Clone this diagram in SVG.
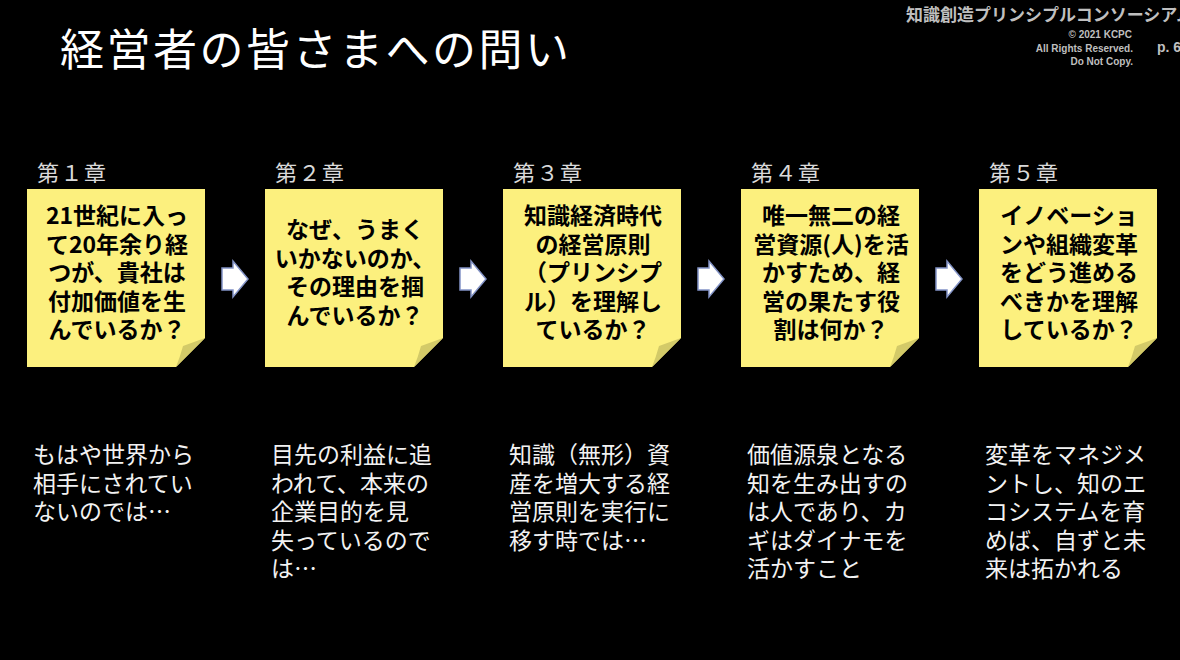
<svg xmlns="http://www.w3.org/2000/svg" width="1180" height="660" viewBox="0 0 1180 660">
<defs>
<style>
.jp{font-family:"Noto Sans CJK JP","Noto Sans",sans-serif}
.title{font-size:44px;fill:#ffffff;letter-spacing:2.5px}
.org{font-size:17px;font-weight:700;fill:#bfbfbf}
.copy{font-family:"Liberation Sans","DejaVu Sans",sans-serif;font-size:10px;font-weight:700;fill:#bfbfbf}
.chap{font-size:22px;fill:#d9d9d9;letter-spacing:1.5px}
.q{font-size:23px;font-weight:700;fill:#000000;text-anchor:middle}
.d{font-size:23px;fill:#f2f2f2}
.note{fill:#fcf07e}
.flap{fill:#d3ca68}
.arrow{fill:#ffffff;stroke:#8393c6;stroke-width:1.5;stroke-linejoin:miter}
</style>
<g id="noteShape">
<path class="note" d="M0,0 H178 V149 L149,178 H0 Z"/>
<path class="flap" d="M178,149 L156,157 Q153,168 149,178 Z"/>
</g>
<path id="arrowShape" d="M0,-11 H11 V-18 L26,0 L11,18 V11 H0 Z"/>
</defs>
<rect width="1180" height="660" fill="#000000"/>

<text class="jp title" x="60" y="66">経営者の皆さまへの問い</text>
<text class="jp org" x="906" y="21">知識創造プリンシプルコンソーシアム</text>
<g class="copy" text-anchor="end">
<text x="1132" y="38">© 2021 KCPC</text>
<text x="1133" y="52">All Rights Reserved.</text>
<text x="1133" y="65">Do Not Copy.</text>
</g>
<text class="copy" x="1157" y="52" style="font-size:14px">p. 6</text>

<g id="connectors">
<use href="#arrowShape" class="arrow" x="222" y="279"/>
<use href="#arrowShape" class="arrow" x="460" y="279"/>
<use href="#arrowShape" class="arrow" x="698" y="279"/>
<use href="#arrowShape" class="arrow" x="936" y="279"/>
</g>

<g id="ch1">
<text class="jp chap" x="37" y="181">第１章</text>
<use href="#noteShape" x="27" y="189"/>
<g class="jp q">
<text x="117" y="224">21世紀に入っ</text>
<text x="117" y="252.5">て20年余り経</text>
<text x="117" y="281">つが、貴社は</text>
<text x="117" y="309.5">付加価値を生</text>
<text x="117" y="338">んでいるか？</text>
</g>
<g class="jp d">
<text x="33" y="463">もはや世界から</text>
<text x="33" y="491.5">相手にされてい</text>
<text x="33" y="520">ないのでは…</text>
</g>
</g>

<g id="ch2">
<text class="jp chap" x="275" y="181">第２章</text>
<use href="#noteShape" x="265" y="189"/>
<g class="jp q">
<text x="355" y="238">なぜ、うまく</text>
<text x="355" y="266.5">いかないのか、</text>
<text x="355" y="295">その理由を掴</text>
<text x="355" y="323.5">んでいるか？</text>
</g>
<g class="jp d">
<text x="271" y="463">目先の利益に追</text>
<text x="271" y="491.5">われて、本来の</text>
<text x="271" y="520">企業目的を見</text>
<text x="271" y="548.5">失っているので</text>
<text x="271" y="577">は…</text>
</g>
</g>

<g id="ch3">
<text class="jp chap" x="513" y="181">第３章</text>
<use href="#noteShape" x="503" y="189"/>
<g class="jp q">
<text x="593" y="224">知識経済時代</text>
<text x="593" y="252.5">の経営原則</text>
<text x="593" y="281">（プリンシプ</text>
<text x="593" y="309.5">ル）を理解し</text>
<text x="593" y="338">ているか？</text>
</g>
<g class="jp d">
<text x="509" y="463">知識（無形）資</text>
<text x="509" y="491.5">産を増大する経</text>
<text x="509" y="520">営原則を実行に</text>
<text x="509" y="548.5">移す時では…</text>
</g>
</g>

<g id="ch4">
<text class="jp chap" x="751" y="181">第４章</text>
<use href="#noteShape" x="741" y="189"/>
<g class="jp q">
<text x="831" y="224">唯一無二の経</text>
<text x="831" y="252.5">営資源(人)を活</text>
<text x="831" y="281">かすため、経</text>
<text x="831" y="309.5">営の果たす役</text>
<text x="831" y="338">割は何か？</text>
</g>
<g class="jp d">
<text x="747" y="463">価値源泉となる</text>
<text x="747" y="491.5">知を生み出すの</text>
<text x="747" y="520">は人であり、カ</text>
<text x="747" y="548.5">ギはダイナモを</text>
<text x="747" y="577">活かすこと</text>
</g>
</g>

<g id="ch5">
<text class="jp chap" x="989" y="181">第５章</text>
<use href="#noteShape" x="979" y="189"/>
<g class="jp q">
<text x="1069" y="224">イノベーショ</text>
<text x="1069" y="252.5">ンや組織変革</text>
<text x="1069" y="281">をどう進める</text>
<text x="1069" y="309.5">べきかを理解</text>
<text x="1069" y="338">しているか？</text>
</g>
<g class="jp d">
<text x="985" y="463">変革をマネジメ</text>
<text x="985" y="491.5">ントし、知のエ</text>
<text x="985" y="520">コシステムを育</text>
<text x="985" y="548.5">めば、自ずと未</text>
<text x="985" y="577">来は拓かれる</text>
</g>
</g>
</svg>
